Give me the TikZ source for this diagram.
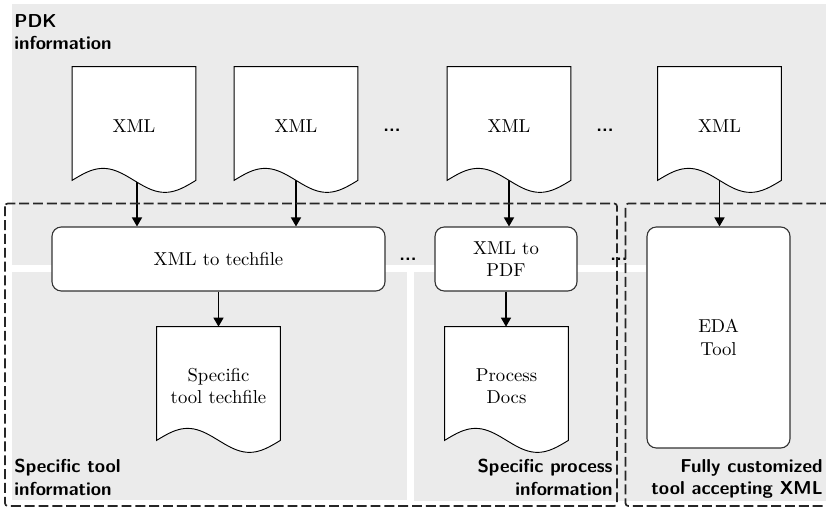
\documentclass[tikz,border=0pt]{standalone}
\usetikzlibrary{arrows.meta,calc}

% one drawing unit = one grid step of the layout
\def\pxu{0.535pt}
\definecolor{regionfill}{RGB}{235,235,235}

\pgfdeclarelayer{bg}
\pgfdeclarelayer{mid}
\pgfdeclarelayer{docs}
\pgfsetlayers{bg,mid,docs,main}

% wavy-bottom document outline drawn around a named node
\newcommand\docoutline[1]{%
  \path[docline] let \p1=(#1.south west), \p2=(#1.north east), \n1={\x2-\x1} in
    (\x1,\y2) -- (\x2,\y2) --
    plot[variable=\t, domain=1:0, samples=41]
      ({\x1+\n1*\t}, {\y1+2.675pt+6.42pt*sin(360*\t)}) -- cycle;}

\begin{document}
\begin{tikzpicture}[x=\pxu, y=-\pxu,
  region/.style={fill=regionfill, draw=none},
  regionline/.style={draw=black!85, line width=0.9pt,
    dash pattern=on 5.3pt off 2.1pt, rounded corners=1.5pt},
  docnode/.style={minimum width=123*\pxu, minimum height=118*\pxu,
    inner sep=0pt, align=center},
  docline/.style={draw=black, fill=white, line width=0.5pt},
  procbox/.style={draw=black!80, fill=white, rounded corners=5pt,
    line width=0.6pt, inner sep=0pt, align=center},
  arr/.style={-{Triangle[length=4.8pt,width=5.4pt]}, line width=0.6pt},
  regionlabel/.style={font=\sffamily\bfseries, inner sep=0pt},
  dots/.style={font=\sffamily\bfseries, inner sep=0pt}]

\useasboundingbox (0,0) rectangle (826,507);

% shaded areas
\begin{pgfonlayer}{bg}
  \fill[region] (12,4) rectangle (826,265);
  \fill[region] (12,272) rectangle (407,500);
  \fill[region] (414,272) rectangle (650,501);
  \fill[region] (646,265) rectangle (826,501);
\end{pgfonlayer}

% source XML documents
\node[docnode] (x1) at (134,126) {XML};
\node[docnode] (x2) at (296,126) {XML};
\node[docnode] (x3) at (509,126) {XML};
\node[docnode] (x4) at (719.5,126) {XML};

% processing steps
\node[procbox, minimum width=333*\pxu, minimum height=64*\pxu] (tf) at (218.5,259) {XML to techfile};
\node[procbox, minimum width=142*\pxu, minimum height=64*\pxu] (pdf) at (506,259) {XML to\\PDF};
\node[procbox, minimum width=143*\pxu, minimum height=221*\pxu] (eda) at (718.5,337.5) {EDA\\Tool};

% generated documents
\node[docnode] (d1) at (218.5,386) {Specific\\tool techfile};
\node[docnode] (d2) at (506.5,386) {Process\\Docs};

% ellipses
\node[dots] (e1) at (392,130) {...};
\node[dots] (e2) at (605,130) {...};
\node[dots] (e3) at (408,259) {...};
\node[dots] (e4) at (619,259) {...};

\begin{pgfonlayer}{docs}
  \docoutline{x1}
  \docoutline{x2}
  \docoutline{x3}
  \docoutline{x4}
  \docoutline{d1}
  \docoutline{d2}
\end{pgfonlayer}

% flow arrows
\begin{pgfonlayer}{mid}
  \draw[arr] ([xshift=3*\pxu]x1.center) -- ([xshift=3*\pxu]x1.center |- tf.north);
  \draw[arr] (x2.center) -- (x2.center |- tf.north);
  \draw[arr] (x3.center) -- (x3.center |- pdf.north);
  \draw[arr] (x4.center) -- (x4.center |- eda.north);
  \draw[arr] (tf) -- (tf.south |- d1.north);
  \draw[arr] (pdf) -- (pdf.south |- d2.north);
\end{pgfonlayer}

% area labels
\node[regionlabel, anchor=north west, align=left] (lpdk) at (14,14) {PDK\\information};
\node[regionlabel, anchor=north west, align=left] (ltool) at (14,459) {Specific tool\\information};
\node[regionlabel, anchor=north east, align=right] (lproc) at (613,459) {Specific process\\information};
\node[regionlabel, anchor=north east, align=right] (lxml) at (823,459) {Fully customized\\tool accepting XML};

% dashed groupings; the right one runs off the edge of the sheet
\begin{scope}
  \clip (0,0) rectangle (826,507);
  \draw[regionline] (5,203.5) rectangle (617,506);
  \draw[regionline] (830,203.5) -- (625.5,203.5) -- (625.5,506) -- (830,506);
\end{scope}
\end{tikzpicture}
\end{document}
